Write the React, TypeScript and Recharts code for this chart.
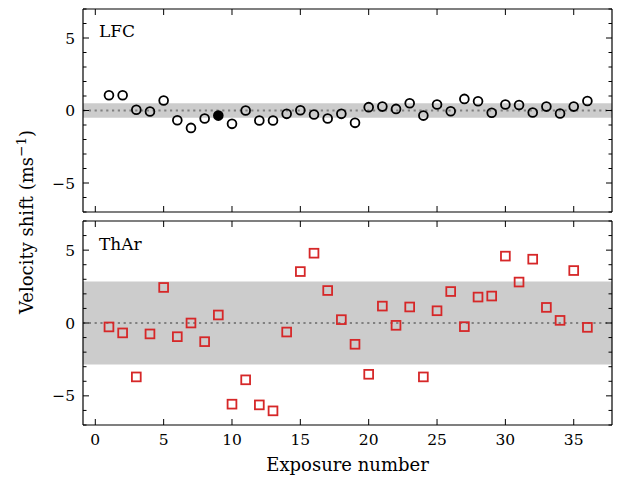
import { ScatterChart, Scatter, XAxis, YAxis, ReferenceArea, ReferenceLine } from 'recharts'

const exposures = [
  1, 2, 3, 4, 5, 6, 7, 8, 9, 10, 11, 12, 13, 14, 15, 16, 17, 18,
  19, 20, 21, 22, 23, 24, 25, 26, 27, 28, 29, 30, 31, 32, 33, 34, 35, 36,
]
const lfcShift = [
  1.05, 1.05, 0.05, -0.07, 0.69, -0.67, -1.2, -0.55, -0.35, -0.92, 0.0, -0.69,
  -0.69, -0.23, 0.02, -0.28, -0.55, -0.23, -0.85, 0.23, 0.27, 0.11, 0.5, -0.35,
  0.41, -0.05, 0.8, 0.64, -0.16, 0.41, 0.38, -0.14, 0.27, -0.21, 0.27, 0.66,
]
const tharShift = [
  -0.27, -0.68, -3.7, -0.75, 2.44, -0.94, 0.0, -1.28, 0.55, -5.57, -3.9, -5.62,
  -6.03, -0.62, 3.53, 4.79, 2.23, 0.23, -1.46, -3.52, 1.16, -0.16, 1.1, -3.7,
  0.84, 2.16, -0.25, 1.78, 1.85, 4.59, 2.81, 4.38, 1.07, 0.18, 3.6, -0.3,
]
const highlightedExposure = 9
const lfcBand = 0.5
const tharBand = 2.85

const xTicks = [0, 5, 10, 15, 20, 25, 30, 35]
const yTicks = [-7, -6, -5, -4, -3, -2, -1, 0, 1, 2, 3, 4, 5, 6, 7]
const xDomain = [-0.9, 37.8]
const yDomain = [-7, 7]

const lfcData = exposures.map((x, i) => ({ x, y: lfcShift[i] }))
const tharData = exposures.map((x, i) => ({ x, y: tharShift[i] }))

const W = 625
const H = 478
const FONT = '"DejaVu Serif", serif'
const RED = '#d62728'

// plot frame, in page pixels
const LEFT = 83
const RIGHT = 612

const fmt = (v: number) => (v < 0 ? `\u2212${Math.abs(v)}` : `${v}`)
const isMajor = (v: number) => v % 5 === 0

function LeftTick({ x, y, payload }: any) {
  const major = isMajor(payload.value)
  return (
    <g>
      <line x1={x} x2={x + (major ? 6 : 3.5)} y1={y} y2={y} stroke="#000" strokeWidth={1} />
      {major && (
        <text x={x - 8} y={y + 5.5} textAnchor="end" fontSize={15.5} fontFamily={FONT} fill="#000">
          {fmt(payload.value)}
        </text>
      )}
    </g>
  )
}

function RightTick({ x, y, payload }: any) {
  const major = isMajor(payload.value)
  return <line x1={x} x2={x - (major ? 6 : 3.5)} y1={y} y2={y} stroke="#000" strokeWidth={1} />
}

function TopTick({ x, y }: any) {
  return <line x1={x} x2={x} y1={y} y2={y + 6} stroke="#000" strokeWidth={1} />
}

function BottomTick({ x, y, payload, labelled }: any) {
  return (
    <g>
      <line x1={x} x2={x} y1={y} y2={y - 6} stroke="#000" strokeWidth={1} />
      {labelled && (
        <text x={x} y={y + 20} textAnchor="middle" fontSize={15.5} fontFamily={FONT} fill="#000">
          {fmt(payload.value)}
        </text>
      )}
    </g>
  )
}

function CircleMark({ cx, cy, payload }: any) {
  const filled = payload.x === highlightedExposure
  return (
    <circle cx={cx} cy={cy} r={4.4} fill={filled ? '#000' : 'none'} stroke="#000" strokeWidth={1.8} />
  )
}

function SquareMark({ cx, cy }: any) {
  return <rect x={cx - 4.4} y={cy - 4.4} width={8.8} height={8.8} fill="none" stroke={RED} strokeWidth={1.8} />
}

function Panel({
  data, band, top, bottom, labelled, shape,
}: { data: any[]; band: number; top: number; bottom: number; labelled: boolean; shape: any }) {
  const frame = { stroke: '#000', strokeWidth: 1.2 }
  return (
    <div style={{ position: 'absolute', left: 0, top: 0 }}>
      <ScatterChart width={W} height={H} margin={{ top: top - 1, bottom: bottom - 1, left: LEFT - 1, right: W - RIGHT - 1 }}>
        <XAxis
          xAxisId="b" type="number" dataKey="x" domain={xDomain} ticks={xTicks} interval={0}
          orientation="bottom" height={1} tickSize={0} tickMargin={0} tickLine={false}
          axisLine={frame} allowDataOverflow
          tick={<BottomTick labelled={labelled} />}
        />
        <XAxis
          xAxisId="t" type="number" dataKey="x" domain={xDomain} ticks={xTicks} interval={0}
          orientation="top" height={1} tickSize={0} tickMargin={0} tickLine={false}
          axisLine={frame} allowDataOverflow
          tick={<TopTick />}
        />
        <YAxis
          yAxisId="l" type="number" dataKey="y" domain={yDomain} ticks={yTicks} interval={0}
          orientation="left" width={1} tickSize={0} tickMargin={0} tickLine={false}
          axisLine={frame} allowDataOverflow
          tick={<LeftTick />}
        />
        <YAxis
          yAxisId="r" type="number" dataKey="y" domain={yDomain} ticks={yTicks} interval={0}
          orientation="right" width={1} tickSize={0} tickMargin={0} tickLine={false}
          axisLine={frame} allowDataOverflow
          tick={<RightTick />}
        />
        <ReferenceArea
          xAxisId="b" yAxisId="l" y1={-band} y2={band}
          fill="#cccccc" fillOpacity={1} stroke="none" ifOverflow="hidden"
        />
        <ReferenceLine
          xAxisId="b" yAxisId="l" y={0}
          stroke="#808080" strokeWidth={2.2} strokeDasharray="2.2 3.6"
        />
        <Scatter xAxisId="b" yAxisId="l" data={data} shape={shape} isAnimationActive={false} />
      </ScatterChart>
    </div>
  )
}

export default function App() {
  const text = { position: 'absolute' as const, fontFamily: FONT, color: '#000', whiteSpace: 'nowrap' as const }
  return (
    <div style={{ position: 'absolute', left: 0, top: 0, width: W, height: H, background: '#fff', overflow: 'hidden' }}>
      <Panel data={lfcData} band={lfcBand} top={9} bottom={H - 212} labelled={false} shape={<CircleMark />} />
      <Panel data={tharData} band={tharBand} top={221} bottom={H - 425} labelled shape={<SquareMark />} />
      <div style={{ ...text, left: 99, top: 21, fontSize: 17 }}>LFC</div>
      <div style={{ ...text, left: 99, top: 234, fontSize: 17 }}>ThAr</div>
      <div style={{ ...text, left: LEFT, width: RIGHT - LEFT, top: 455, textAlign: 'center', fontSize: 18, lineHeight: '20px' }}>
        Exposure number
      </div>
      <div
        style={{
          ...text, left: 27 - 150, top: 222 - 12, width: 300, height: 24, lineHeight: '24px',
          textAlign: 'center', fontSize: 18, transform: 'rotate(-90deg)',
        }}
      >
        Velocity shift (ms<sup style={{ fontSize: '0.75em', lineHeight: 0 }}>{'\u2212'}1</sup>)
      </div>
    </div>
  )
}
